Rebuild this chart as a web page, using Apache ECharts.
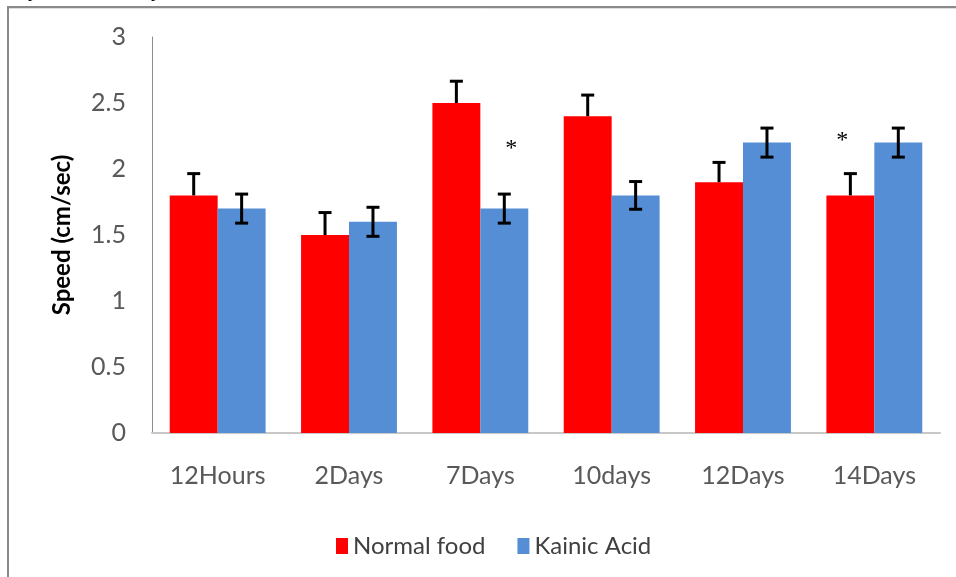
<!DOCTYPE html>
<html>
<head>
<meta charset="utf-8">
<script src="https://cdn.jsdelivr.net/npm/echarts@6/dist/echarts.min.js"></script>
<style>
html,body{margin:0;padding:0;background:#fff;}
#chart{width:956px;height:577px;}
</style>
</head>
<body>
<div id="chart"></div>
<script>
const categories = ['12Hours', '2Days', '7Days', '10days', '12Days', '14Days'];
const normalFood = [1.8, 1.5, 2.5, 2.4, 1.9, 1.8];
const kainicAcid = [1.7, 1.6, 1.7, 1.8, 2.2, 2.2];
const normalErrPlus = [0.165, 0.17, 0.165, 0.16, 0.15, 0.165];
const kainicErr = [0.11, 0.11, 0.11, 0.105, 0.11, 0.11];
const yTicks = [0, 0.5, 1, 1.5, 2, 2.5, 3];
// significance marks: [category index, value, series index]
const asterisks = [[2, 2.17, 1], [5, 2.23, 0]];

const RED = '#FF0000';
const BLUE = '#558ED5';
const CAT_GAP = 0.27;

const chart = echarts.init(document.getElementById('chart'));

function barInfo(api, seriesIdx) {
  const catW = api.size([1, 0])[0];
  const bw = catW * (1 - CAT_GAP) / 2;
  return { bw: bw, off: seriesIdx === 0 ? -bw / 2 : bw / 2 };
}

function errRender(seriesIdx, plusOnly) {
  return function (params, api) {
    const ci = api.value(0);
    const v = api.value(1);
    const up = api.value(2);
    const dn = api.value(3);
    const info = barInfo(api, seriesIdx);
    const top = api.coord([ci, v + up]);
    const mid = api.coord([ci, v]);
    const bot = api.coord([ci, v - dn]);
    const x = top[0] + info.off;
    const cap = 6.5;
    const style = { stroke: '#000', lineWidth: 3 };
    const children = [];
    const yBottom = plusOnly ? mid[1] : bot[1];
    children.push({ type: 'line', shape: { x1: x, y1: top[1], x2: x, y2: yBottom }, style: style });
    children.push({ type: 'line', shape: { x1: x - cap, y1: top[1], x2: x + cap, y2: top[1] }, style: style });
    if (!plusOnly) {
      children.push({ type: 'line', shape: { x1: x - cap, y1: bot[1], x2: x + cap, y2: bot[1] }, style: style });
    }
    return { type: 'group', children: children };
  };
}

const option = {
  backgroundColor: '#fff',
  animation: false,
  grid: { left: 152, right: 16, top: 37, bottom: 144, containLabel: false },
  legend: {
    data: ['Normal food', 'Kainic Acid'],
    left: 331,
    top: 529,
    itemWidth: 12,
    itemHeight: 16,
    itemGap: 32,
    icon: 'rect',
    textStyle: { fontFamily: 'Lato', fontSize: 24, color: '#404040', padding: [0, 0, 0, 0] }
  },
  xAxis: {
    type: 'category',
    data: categories,
    axisLine: { show: true, lineStyle: { color: '#c8c8c8', width: 2 } },
    axisTick: { show: false },
    axisLabel: { fontFamily: 'Lato', fontSize: 25, color: '#595959', margin: 30 },
    splitLine: { show: false }
  },
  yAxis: {
    type: 'value',
    min: yTicks[0],
    max: yTicks[yTicks.length - 1],
    interval: 0.5,
    name: 'Speed (cm/sec)',
    nameLocation: 'middle',
    nameRotate: 90,
    nameGap: 78,
    nameTextStyle: { fontFamily: 'Lato', fontSize: 24, fontWeight: 'bold', color: '#000' },
    axisLine: { show: true, lineStyle: { color: '#8c8c8c', width: 1 } },
    axisTick: { show: false },
    axisLabel: { fontFamily: 'Lato', fontSize: 25, color: '#595959', margin: 26 },
    splitLine: { show: false }
  },
  series: [
    {
      name: 'Normal food',
      type: 'bar',
      data: normalFood,
      barGap: '0%',
      barCategoryGap: (CAT_GAP * 100) + '%',
      itemStyle: { color: RED }
    },
    {
      name: 'Kainic Acid',
      type: 'bar',
      data: kainicAcid,
      barGap: '0%',
      barCategoryGap: (CAT_GAP * 100) + '%',
      itemStyle: { color: BLUE }
    },
    {
      type: 'custom',
      renderItem: errRender(0, true),
      data: normalFood.map((v, i) => [i, v, normalErrPlus[i], 0]),
      z: 10,
      silent: true
    },
    {
      type: 'custom',
      renderItem: errRender(1, false),
      data: kainicAcid.map((v, i) => [i, v, kainicErr[i], kainicErr[i]]),
      z: 10,
      silent: true
    },
    {
      type: 'custom',
      renderItem: function (params, api) {
        const ci = api.value(0);
        const v = api.value(1);
        const s = api.value(2);
        const info = barInfo(api, s);
        const p = api.coord([ci, v]);
        const x = p[0] + info.off + (s === 0 ? -8 : 7);
        return {
          type: 'text',
          style: {
            text: '*', x: x, y: p[1] + 2,
            align: 'center', verticalAlign: 'middle',
            font: '24px "Liberation Serif"', fill: '#000'
          }
        };
      },
      data: asterisks,
      z: 11,
      silent: true
    }
  ],
  graphic: [
    { type: 'line', shape: { x1: 8, y1: 7, x2: 956, y2: 7 }, style: { stroke: '#8a8a8a', lineWidth: 2 } },
    { type: 'line', shape: { x1: 9, y1: 8.5, x2: 956, y2: 8.5 }, style: { stroke: '#dedede', lineWidth: 1 } },
    { type: 'line', shape: { x1: 8, y1: 6, x2: 8, y2: 577 }, style: { stroke: '#8a8a8a', lineWidth: 2 } },
    { type: 'text', left: 28, top: -21, style: { text: 'y', font: '22px "Liberation Serif"', fill: '#000' } },
    { type: 'text', left: 151, top: -21, style: { text: 'y', font: '22px "Liberation Serif"', fill: '#000' } }
  ]
};
chart.setOption(option);
</script>
</body>
</html>
